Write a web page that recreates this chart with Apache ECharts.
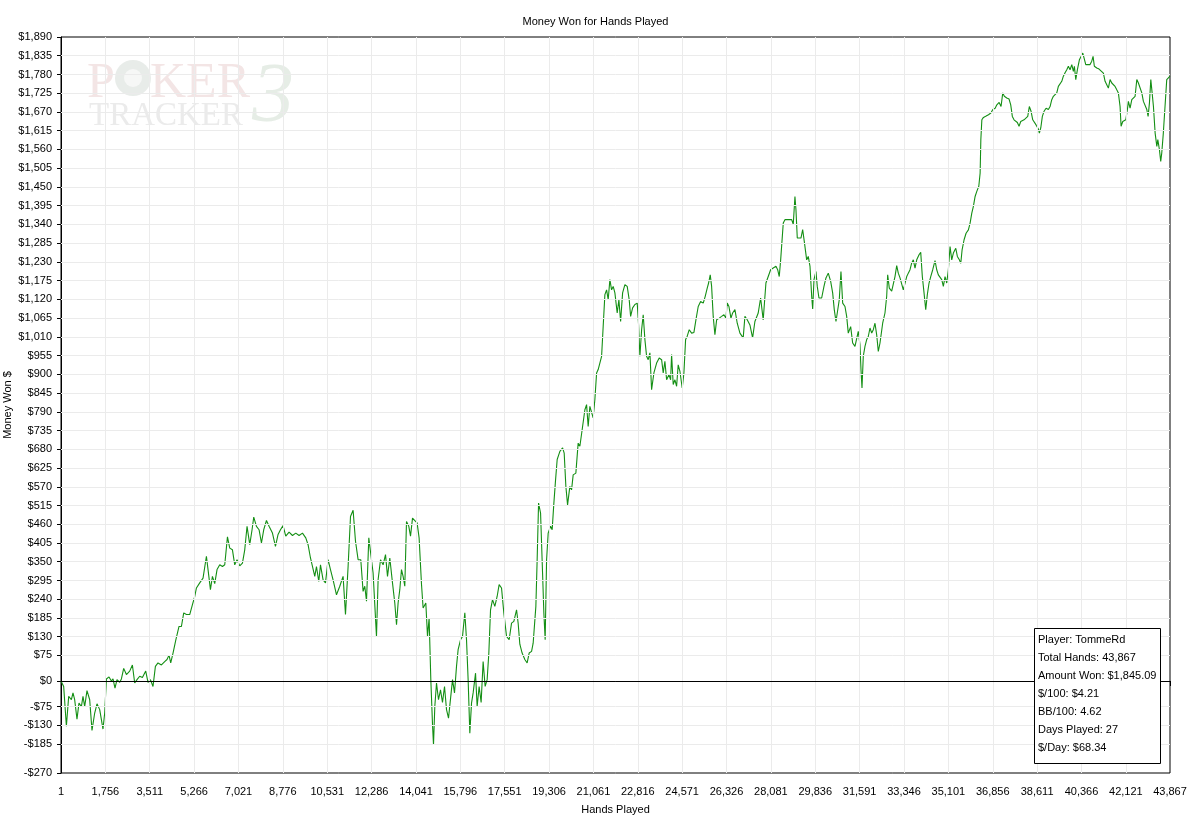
<!DOCTYPE html>
<html>
<head>
<meta charset="utf-8">
<title>Money Won for Hands Played</title>
<script src="https://cdn.jsdelivr.net/npm/echarts@6/dist/echarts.min.js"></script>
<style>
  html, body { margin: 0; padding: 0; background: #fff; }
  #chart { width: 1191px; height: 819px; }
</style>
</head>
<body>
<div id="chart"></div>
<script>
// hands played (x) and cumulative money won (y)
var hands = [
  1, 107, 214, 305, 412, 475, 542, 633, 712, 807, 871, 938, 1029, 1136, 1227, 1334, 1425, 1532, 1662, 1729,
  1797, 1900, 1995, 2058, 2137, 2216, 2323, 2390, 2481, 2588, 2718, 2825, 2916, 3007, 3114, 3221, 3352, 3443, 3538, 3640,
  3735, 3838, 3973, 4103, 4194, 4273, 4341, 4432, 4539, 4669, 4764, 4855, 4962, 5093, 5200, 5291, 5358, 5488, 5619, 5753,
  5817, 5912, 5991, 6082, 6173, 6280, 6387, 6478, 6585, 6676, 6782, 6873, 6964, 7071, 7178, 7269, 7360, 7467, 7558, 7625,
  7732, 7835, 7930, 8021, 8128, 8231, 8365, 8484, 8587, 8682, 8785, 8891, 9022, 9157, 9287, 9418, 9552, 9683, 9774, 9869,
  9948, 10039, 10106, 10197, 10265, 10368, 10462, 10565, 10660, 10763, 10898, 11028, 11159, 11254, 11357, 11452, 11555, 11650, 11753, 11859,
  11950, 12017, 12085, 12176, 12243, 12346, 12413, 12480, 12544, 12639, 12742, 12837, 12916, 13007, 13113, 13204, 13272, 13335, 13402, 13469,
  13533, 13600, 13667, 13758, 13826, 13905, 13996, 14087, 14166, 14261, 14324, 14431, 14498, 14562, 14629, 14696, 14735, 14787, 14854, 14933,
  15012, 15091, 15171, 15250, 15329, 15408, 15487, 15566, 15645, 15709, 15804, 15883, 15974, 16041, 16105, 16172, 16239, 16303, 16398, 16461,
  16540, 16619, 16698, 16778, 16857, 16924, 16991, 17070, 17161, 17252, 17331, 17426, 17517, 17624, 17727, 17822, 17913, 18020, 18083, 18150,
  18241, 18348, 18439, 18519, 18614, 18677, 18784, 18835, 18891, 18970, 19049, 19100, 19152, 19208, 19271, 19366, 19429, 19496, 19564, 19627,
  19734, 19841, 19904, 19971, 20038, 20129, 20196, 20260, 20366, 20457, 20525, 20616, 20723, 20790, 20853, 20920, 20988, 21051, 21118, 21186,
  21249, 21316, 21384, 21447, 21514, 21582, 21645, 21712, 21779, 21843, 21910, 22001, 22068, 22136, 22215, 22306, 22397, 22476, 22532, 22611,
  22702, 22793, 22848, 22899, 22967, 23030, 23097, 23164, 23228, 23295, 23362, 23453, 23560, 23663, 23758, 23821, 23888, 23956, 24047, 24114,
  24153, 24217, 24284, 24351, 24414, 24482, 24573, 24640, 24707, 24771, 24850, 24945, 25036, 25115, 25206, 25301, 25404, 25483, 25562, 25617,
  25681, 25736, 25799, 25866, 25934, 26037, 26132, 26223, 26302, 26353, 26421, 26500, 26567, 26658, 26749, 26856, 26985, 27053, 27144, 27251,
  27357, 27448, 27579, 27674, 27777, 27884, 27975, 28070, 28174, 28281, 28348, 28411, 28467, 28570, 28637, 28768, 28902, 28965, 29032, 29072,
  29124, 29203, 29270, 29337, 29401, 29496, 29559, 29627, 29694, 29733, 29785, 29863, 29915, 29982, 30089, 30180, 30259, 30350, 30445, 30524,
  30587, 30655, 30722, 30785, 30852, 30920, 31011, 31078, 31141, 31236, 31315, 31406, 31474, 31537, 31604, 31644, 31684, 31735, 31802, 31870,
  31933, 32000, 32068, 32131, 32198, 32265, 32329, 32396, 32502, 32593, 32661, 32700, 32764, 32859, 32922, 32989, 33057, 33120, 33188, 33255,
  33318, 33385, 33453, 33516, 33583, 33651, 33714, 33781, 33849, 33940, 34007, 34070, 34138, 34205, 34268, 34336, 34403, 34482, 34573, 34640,
  34704, 34771, 34838, 34902, 34969, 35036, 35100, 35167, 35234, 35298, 35393, 35456, 35535, 35591, 35643, 35722, 35801, 35892, 35960, 36027,
  36090, 36158, 36225, 36304, 36357, 36385, 36425, 36488, 36595, 36686, 36781, 36860, 36951, 37018, 37109, 37184, 37252, 37314, 37409, 37500,
  37567, 37631, 37698, 37765, 37829, 37896, 37963, 38027, 38094, 38173, 38240, 38303, 38371, 38438, 38502, 38569, 38660, 38700, 38755, 38818,
  38886, 38965, 39056, 39123, 39190, 39253, 39321, 39388, 39451, 39519, 39586, 39649, 39716, 39784, 39847, 39914, 39982, 40045, 40085, 40140,
  40204, 40283, 40350, 40417, 40469, 40535, 40614, 40705, 40772, 40824, 40875, 40970, 41061, 41140, 41232, 41299, 41366, 41429, 41497, 41564,
  41627, 41694, 41762, 41825, 41892, 41932, 41999, 42051, 42118, 42181, 42221, 42288, 42356, 42419, 42486, 42554, 42617, 42684, 42752, 42815,
  42882, 42950, 43001, 43053, 43108, 43160, 43212, 43279, 43346, 43385, 43449, 43500, 43540, 43603, 43670, 43738, 43801, 43867
];
var won = [
  0, -16, -133, -45, -55, -35, -55, -112, -65, -75, -45, -75, -28, -55, -145, -94, -67, -84, -141, -94,
  6, 12, 0, 6, -21, 4, -4, 6, 37, 19, 29, 47, -6, 4, 14, 10, 29, -4, 4, -16,
  43, 53, 47, 57, 63, 76, 53, 82, 119, 160, 160, 200, 195, 195, 224, 248, 273, 288, 302, 366,
  327, 268, 307, 286, 327, 341, 336, 341, 423, 390, 385, 341, 356, 338, 346, 385, 454, 400, 444, 481,
  454, 444, 405, 444, 471, 454, 434, 395, 430, 444, 456, 425, 437, 427, 434, 427, 434, 420, 400, 361,
  356, 307, 336, 292, 341, 297, 288, 356, 327, 297, 253, 278, 307, 195, 336, 483, 501, 410, 356, 356,
  263, 278, 234, 420, 417, 317, 312, 131, 297, 356, 341, 371, 307, 361, 288, 229, 165, 229, 268, 327,
  307, 278, 468, 454, 425, 478, 471, 464, 420, 283, 214, 229, 131, 185, 4, -128, -187, -75, -6, -55,
  -26, -63, -16, -84, -109, -114, 4, -35, 43, 92, 121, 131, 200, 121, 4, -153, -65, -35, 23, -75,
  -16, -63, 57, -16, 4, 82, 209, 239, 219, 248, 283, 273, 200, 131, 121, 170, 175, 209, 170, 108,
  82, 63, 53, 82, 87, 111, 219, 356, 522, 493, 317, 200, 121, 356, 434, 454, 444, 522, 591, 650,
  674, 684, 669, 571, 517, 571, 561, 605, 610, 698, 689, 738, 796, 811, 747, 806, 806, 772, 826, 904,
  914, 914, 953, 1041, 1134, 1148, 1119, 1178, 1148, 1158, 1139, 1080, 1119, 1055, 1139, 1163, 1158, 1119, 1070, 1095,
  1105, 1109, 1045, 953, 1031, 1075, 1002, 953, 943, 963, 855, 904, 933, 948, 943, 904, 938, 884, 899, 884,
  958, 870, 884, 865, 928, 909, 860, 904, 1002, 1012, 1031, 1021, 1023, 1060, 1099, 1114, 1109, 1129, 1153, 1168,
  1192, 1158, 1070, 1016, 1060, 1065, 1070, 1075, 1065, 1109, 1099, 1065, 1080, 1090, 1050, 1021, 1007, 1070, 1060, 1045,
  1007, 1055, 1080, 1124, 1060, 1168, 1187, 1207, 1212, 1217, 1207, 1187, 1236, 1344, 1354, 1354, 1354, 1340, 1422, 1383,
  1300, 1295, 1300, 1325, 1290, 1236, 1246, 1217, 1129, 1092, 1178, 1202, 1158, 1124, 1124, 1158, 1183, 1197, 1173, 1139,
  1090, 1055, 1060, 1119, 1202, 1109, 1099, 1070, 1021, 1040, 992, 982, 977, 1026, 987, 914, 860, 953, 982, 1002,
  1011, 1036, 1021, 1031, 1050, 1016, 967, 992, 1050, 1080, 1129, 1192, 1153, 1144, 1148, 1187, 1219, 1197, 1183, 1178,
  1148, 1148, 1187, 1197, 1207, 1227, 1236, 1212, 1236, 1251, 1258, 1187, 1139, 1090, 1134, 1168, 1187, 1207, 1234, 1207,
  1192, 1187, 1178, 1158, 1187, 1168, 1207, 1275, 1236, 1256, 1270, 1246, 1236, 1226, 1265, 1295, 1314, 1324, 1344, 1373,
  1393, 1422, 1437, 1452, 1491, 1589, 1647, 1654, 1658, 1662, 1667, 1677, 1681, 1691, 1698, 1686, 1726, 1716, 1711, 1708,
  1691, 1657, 1647, 1647, 1639, 1628, 1642, 1637, 1647, 1642, 1657, 1686, 1672, 1647, 1642, 1632, 1620, 1608, 1623, 1657,
  1672, 1681, 1677, 1686, 1706, 1716, 1711, 1726, 1745, 1740, 1760, 1775, 1785, 1794, 1804, 1794, 1809, 1789, 1804, 1765,
  1794, 1823, 1833, 1843, 1828, 1809, 1804, 1809, 1819, 1833, 1804, 1799, 1796, 1794, 1784, 1760, 1750, 1740, 1765, 1755,
  1760, 1745, 1735, 1726, 1686, 1628, 1642, 1637, 1647, 1677, 1701, 1681, 1706, 1701, 1716, 1765, 1755, 1760, 1726, 1701,
  1696, 1677, 1657, 1696, 1765, 1726, 1686, 1608, 1569, 1589, 1559, 1525, 1549, 1608, 1686, 1765, 1770, 1775
];

// axis ticks as drawn by the original
var xTicks = [1, 1756, 3511, 5266, 7021, 8776, 10531, 12286, 14041, 15796, 17551, 19306, 21061,
  22816, 24571, 26326, 28081, 29836, 31591, 33346, 35101, 36856, 38611, 40366, 42121, 43867];
var yTicks = [-270, -185, -130, -75, 0, 75, 130, 185, 240, 295, 350, 405, 460, 515, 570, 625, 680,
  735, 790, 845, 900, 955, 1010, 1065, 1120, 1175, 1230, 1285, 1340, 1395, 1450, 1505, 1560,
  1615, 1670, 1725, 1780, 1835, 1890];

var statLines = ['Player: TommeRd', 'Total Hands: 43,867', 'Amount Won: $1,845.09',
  '$/100: $4.21', 'BB/100: 4.62', 'Days Played: 27', '$/Day: $68.34'];

var FONT = '"Liberation Sans", Arial, sans-serif';
var SERIF = '"Liberation Serif", serif';

function money(v) {
  return (v < 0 ? '-' : '') + '$' + Math.abs(v).toLocaleString('en-US');
}

var chart = echarts.init(document.getElementById('chart'), null, {renderer: 'canvas'});

// light grid at each tick (x and y) drawn as mark lines
var gridLines = [];
yTicks.forEach(function (v) {
  if (v !== 0 && v !== yTicks[0] && v !== yTicks[yTicks.length - 1]) gridLines.push({yAxis: v});
});
xTicks.forEach(function (v) {
  if (v !== xTicks[0] && v !== xTicks[xTicks.length - 1]) gridLines.push({xAxis: v});
});

var statGraphics = statLines.map(function (t, i) {
  return {
    type: 'text', x: 1038, y: 640 + i * 18, z: 101,
    style: {text: t, font: '11px ' + FONT, fill: '#000', verticalAlign: 'middle'}
  };
});

var option = {
  animation: false,
  backgroundColor: '#fff',
  title: {
    text: 'Money Won for Hands Played',
    left: 'center',
    top: 11,
    textStyle: {fontFamily: FONT, fontSize: 11, fontWeight: 'normal', color: '#000'}
  },
  grid: {
    left: 61, right: 21, top: 37, bottom: 46,
    outerBoundsMode: 'none',
    containLabel: false,
    show: true, borderColor: '#000', borderWidth: 1, backgroundColor: 'transparent'
  },
  xAxis: {
    type: 'value',
    min: 1,
    max: 43867,
    name: 'Hands Played',
    nameLocation: 'middle',
    nameGap: 31,
    nameTextStyle: {fontFamily: FONT, fontSize: 11, color: '#000'},
    axisLine: {lineStyle: {color: '#000', width: 1}},
    axisTick: {length: 5, lineStyle: {color: '#000'}, customValues: xTicks},
    axisLabel: {
      customValues: xTicks,
      margin: 13,
      fontFamily: FONT, fontSize: 11, color: '#000',
      formatter: function (v) { return v.toLocaleString('en-US'); }
    },
    splitLine: {show: false}
  },
  yAxis: {
    type: 'value',
    min: -270,
    max: 1890,
    axisLine: {show: true, lineStyle: {color: '#000', width: 1}},
    axisTick: {show: true, length: 4, lineStyle: {color: '#000'}, customValues: yTicks},
    axisLabel: {
      customValues: yTicks,
      margin: 9,
      fontFamily: FONT, fontSize: 11, color: '#000',
      formatter: money
    },
    splitLine: {show: false}
  },
  graphic: [
    // y axis title
    {type: 'text', x: 8, y: 405, rotation: Math.PI / 2, z: 10,
      style: {text: 'Money Won $', font: '11px ' + FONT, fill: '#000', align: 'center', verticalAlign: 'middle'}},
    // faded PokerTracker 3 watermark
    {type: 'text', x: 87, y: 109, z: 0, style: {text: 'P', font: '50px ' + SERIF, fill: '#f3e5e5', verticalAlign: 'bottom'}},
    {type: 'circle', z: 0, shape: {cx: 133, cy: 78, r: 18}, style: {fill: '#e8ece9'}},
    {type: 'circle', z: 0, shape: {cx: 133, cy: 78, r: 9}, style: {fill: '#f6f7f6'}},
    {type: 'text', x: 150, y: 109, z: 0, style: {text: 'KER', font: '50px ' + SERIF, fill: '#f3e5e5', verticalAlign: 'bottom'}},
    {type: 'text', x: 252, y: 141, z: 0, style: {text: '3', font: 'italic 84px ' + SERIF, fill: '#e6ede6', verticalAlign: 'bottom'}},
    {type: 'text', x: 89, y: 133, z: 0, style: {text: 'TRACKER', font: '33px ' + SERIF, fill: '#ebebeb', verticalAlign: 'bottom'}},
    // stats box
    {type: 'rect', z: 100, shape: {x: 1034.5, y: 628.5, width: 126, height: 135}, style: {fill: '#fff', stroke: '#000', lineWidth: 1}}
  ].concat(statGraphics),
  series: [
    {
      name: 'grid',
      type: 'line',
      data: [],
      z: 1,
      silent: true,
      markLine: {
        silent: true,
        symbol: ['none', 'none'],
        label: {show: false},
        emphasis: {disabled: true},
        lineStyle: {type: 'solid', color: '#ebebeb', width: 1},
        data: gridLines
      }
    },
    {
      name: 'Money Won',
      type: 'line',
      z: 3,
      showSymbol: false,
      symbol: 'none',
      lineStyle: {color: '#148f14', width: 1.1},
      itemStyle: {color: '#148f14'},
      data: hands.map(function (h, i) { return [h, won[i]]; }),
      markLine: {
        silent: true,
        symbol: ['none', 'none'],
        label: {show: false},
        emphasis: {disabled: true},
        lineStyle: {type: 'solid', color: '#000', width: 1},
        data: [{yAxis: 0}]
      }
    }
  ]
};

chart.setOption(option);
</script>
</body>
</html>
